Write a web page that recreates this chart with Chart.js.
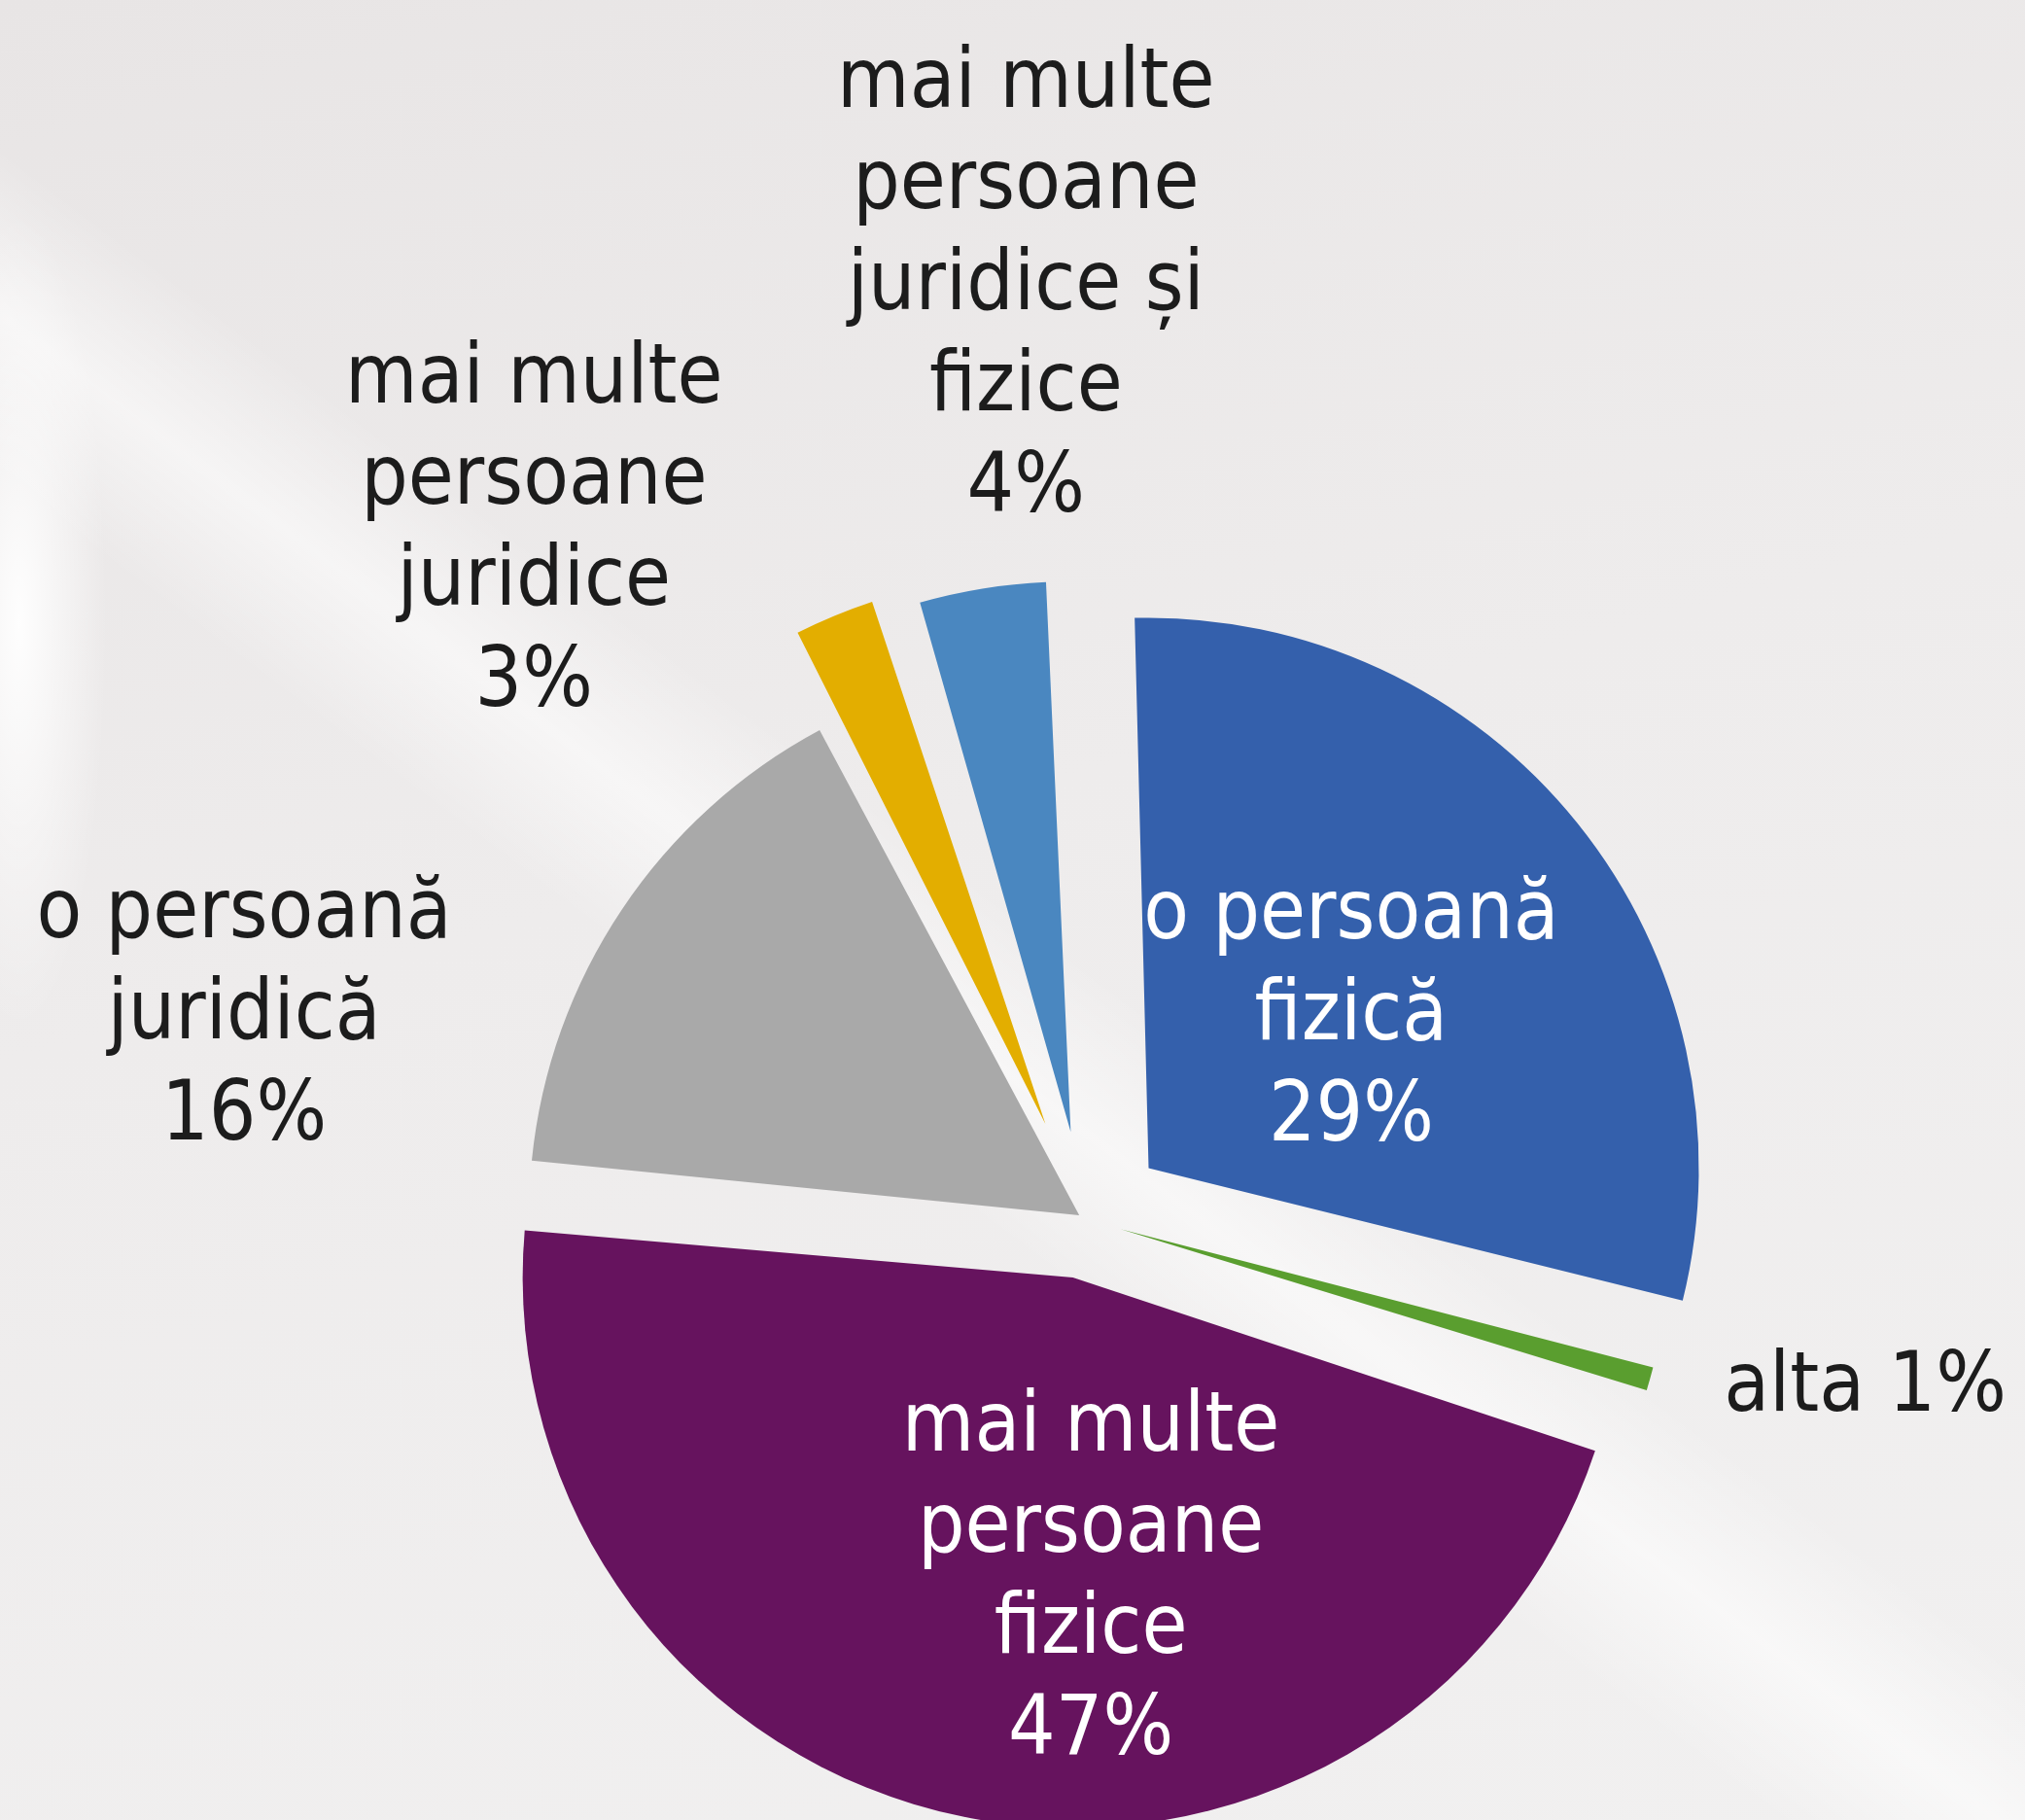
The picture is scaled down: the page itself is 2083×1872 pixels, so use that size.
<!DOCTYPE html>
<html>
<head>
<meta charset="utf-8">
<script src="https://cdn.jsdelivr.net/npm/chart.js@4.4.1/dist/chart.umd.min.js"></script>
<style>
  html, body { margin: 0; padding: 0; }
  body {
    width: 2083px;
    height: 1872px;
    overflow: hidden;
    background:
      linear-gradient(37deg, rgba(255,255,255,0) 40%, rgba(255,255,255,0.55) 45%, rgba(255,255,255,0) 50%),
      radial-gradient(ellipse 90px 420px at 20px 640px, rgba(255,255,255,0.95), rgba(255,255,255,0)),
      linear-gradient(165deg, #e8e5e5 0%, #eeecec 45%, #f1f0f0 100%);
  }
  canvas { display: block; }
</style>
</head>
<body>
<canvas id="pieChart" width="2083" height="1872"></canvas>
<script>
// categories (one entry per slice, already split into lines), clockwise from the top
const categories = [
  ['o persoană', 'fizică'],
  ['alta'],
  ['mai multe', 'persoane', 'fizice'],
  ['o persoană', 'juridică'],
  ['mai multe', 'persoane', 'juridice'],
  ['mai multe', 'persoane', 'juridice și', 'fizice']
];
// shares in percent (labels show them rounded)
const shares = [29.3, 1.0, 46.7, 15.6, 3.1, 4.3];

const sliceColors = ['#3460ac', '#5a9e2f', '#66135e', '#a9a9a9', '#e3ae00', '#4a87c0'];
const explode = [336, 152, 245, 28, 424, 364];

const R = 566;
const FONT_SIZE = 86;
const LINE_H = 104;
const X_SCALE = 0.89;

// where each label sits: fraction of the radius and a turn (deg) away from the slice middle
const labelPlacement = [
  { r: 0.584, shift: 4.73, color: '#ffffff' },
  { r: 1.212, shift: 0.89, color: '#1c1c1c', align: 'left', inline: true },
  { r: 0.696, shift: -12.53, color: '#ffffff' },
  { r: 1.563, shift: -21.66, color: '#1c1c1c' },
  { r: 1.569, shift: -17.09, color: '#1c1c1c' },
  { r: 1.657, shift: 5.53, color: '#1c1c1c' }
];

// exploded arcs grow by offset*fix in Chart.js, keep them all at the same radius
const sameRadius = {
  id: 'sameRadius',
  beforeDatasetsDraw(chart) {
    chart.getDatasetMeta(0).data.forEach(arc => {
      const fix = 1 - Math.sin(Math.min(Math.PI, arc.circumference));
      arc.outerRadius = R - (arc.options.offset / 4) * fix;
    });
  }
};

const sliceLabels = {
  id: 'sliceLabels',
  afterDatasetsDraw(chart) {
    const ctx = chart.ctx;
    chart.getDatasetMeta(0).data.forEach((arc, i) => {
      const p = labelPlacement[i];
      const a = (arc.startAngle + arc.endAngle) / 2 + p.shift * Math.PI / 180;
      const x = arc.x + Math.cos(a) * R * p.r;
      const y = arc.y + Math.sin(a) * R * p.r;
      const pct = Math.round(shares[i]) + '%';
      const lines = p.inline ? [categories[i].join(' ') + ' ' + pct] : categories[i].concat([pct]);

      ctx.save();
      ctx.font = FONT_SIZE + 'px "DejaVu Sans"';
      ctx.fillStyle = p.color;
      ctx.textAlign = p.align || 'center';
      ctx.textBaseline = 'alphabetic';
      lines.forEach((line, k) => {
        ctx.save();
        ctx.translate(x, y + (k - (lines.length - 1) / 2) * LINE_H);
        ctx.scale(X_SCALE, 1);
        ctx.fillText(line, 0, 0);
        ctx.restore();
      });
      ctx.restore();
    });
  }
};

new Chart(document.getElementById('pieChart'), {
  type: 'pie',
  data: {
    labels: categories,
    datasets: [{
      data: shares,
      backgroundColor: sliceColors,
      offset: explode,
      borderWidth: 0,
      radius: R,
      clip: false
    }]
  },
  options: {
    responsive: false,
    animation: false,
    rotation: -1.5,
    events: [],
    layout: { padding: { left: 149, top: 636, right: 0, bottom: 0 } },
    plugins: {
      legend: { display: false },
      tooltip: { enabled: false }
    }
  },
  plugins: [sameRadius, sliceLabels]
});
</script>
</body>
</html>
